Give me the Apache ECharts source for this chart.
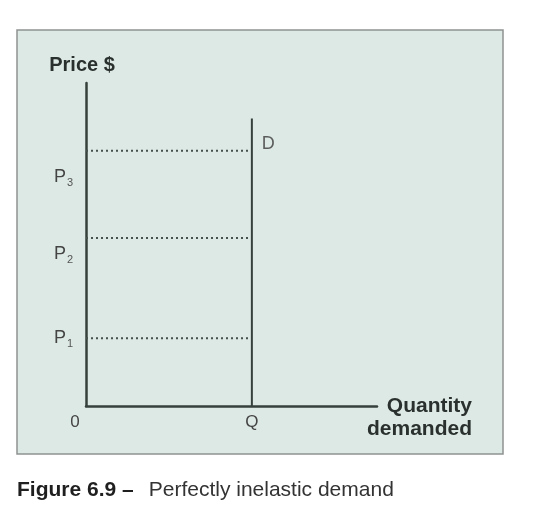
<!DOCTYPE html>
<html>
<head>
<meta charset="utf-8">
<script src="https://cdn.jsdelivr.net/npm/echarts@6/dist/echarts.min.js"></script>
<style>
  html, body { margin: 0; padding: 0; background: #fff; }
  #chart { width: 549px; height: 524px; }
</style>
</head>
<body>
<div id="chart"></div>
<script>
// quantity at which demand is fixed
const quantityQ = 57;
// top end of the demand curve
const demandTop = 89;
// price levels (dotted lines) and where their labels sit
const priceLevels = [21, 52, 79];
const priceNames = ['P{s|1}', 'P{s|2}', 'P{s|3}'];
const priceTickPos = [21, 47, 71];
// x axis tick labels
const xTickVals = [0, quantityQ];
const xTickNames = ['0', 'Q'];
const demandLabelAt = 81;

const ink = '#36403c';
const font = '"Liberation Sans", Arial, sans-serif';

const myChart = echarts.init(document.getElementById('chart'));

const priceSeries = priceLevels.map(function (p) {
  return {
    type: 'line',
    data: [[0, p], [quantityQ, p]],
    symbol: 'none',
    silent: true,
    lineStyle: { color: '#46504c', width: 2, type: [2, 3] },
    z: 1
  };
});

const option = {
  animation: false,
  backgroundColor: '#fff',
  graphic: [
    {
      type: 'rect',
      z: -10,
      shape: { x: 17, y: 30, width: 486, height: 424 },
      style: { fill: '#dde9e4', stroke: '#8f9391', lineWidth: 1.5 }
    },
    {
      type: 'text',
      left: 17,
      top: 480,
      style: {
        text: '{b|Figure 6.9 –}{r|Perfectly inelastic demand}',
        rich: {
          b: { fontFamily: font, fontSize: 21, fontWeight: 'bold', fill: '#1f1f1f' },
          r: { fontFamily: font, fontSize: 21, fill: '#333', padding: [0, 0, 0, 15] }
        }
      }
    }
  ],
  grid: { left: 86, top: 83, right: 172, bottom: 118 },
  xAxis: {
    type: 'value',
    min: 0,
    max: 100,
    splitLine: { show: false },
    axisTick: { show: false },
    axisLine: { lineStyle: { color: ink, width: 2.5 } },
    axisLabel: {
      customValues: xTickVals,
      margin: 8,
      color: '#444',
      fontFamily: font,
      fontSize: 17,
      formatter: function (v) {
        const i = xTickVals.indexOf(v);
        return i === 0 ? '{o|' + xTickNames[i] + '}' : xTickNames[i];
      },
      rich: { o: { fontFamily: font, fontSize: 17, color: '#444', padding: [0, 22, 0, 0] } }
    },
    name: '\nQuantity\ndemanded',
    nameLocation: 'end',
    nameGap: 95,
    nameTextStyle: {
      fontFamily: font, fontSize: 21, fontWeight: 'bold', color: '#2a302d',
      align: 'right', verticalAlign: 'middle', lineHeight: 23
    }
  },
  yAxis: {
    type: 'value',
    min: 0,
    max: 100,
    splitLine: { show: false },
    axisTick: { show: false },
    axisLine: { lineStyle: { color: ink, width: 2.5 } },
    axisLabel: {
      customValues: priceTickPos,
      margin: 13,
      color: '#444',
      fontFamily: font,
      fontSize: 18,
      formatter: function (v) { return priceNames[priceTickPos.indexOf(v)]; },
      rich: { s: { fontFamily: font, fontSize: 11, color: '#555', padding: [12, 0, 0, 1] } }
    },
    name: 'Price $',
    nameLocation: 'end',
    nameGap: 8,
    nameTextStyle: {
      fontFamily: font, fontSize: 20, fontWeight: 'bold', color: '#2a302d',
      padding: [0, 8, 0, 0]
    }
  },
  series: priceSeries.concat([
    {
      type: 'line',
      data: [[quantityQ, 0], [quantityQ, demandTop]],
      symbol: 'none',
      silent: true,
      lineStyle: { color: ink, width: 2 },
      z: 3
    },
    {
      type: 'scatter',
      data: [[quantityQ, demandLabelAt]],
      symbolSize: 0,
      silent: true,
      label: {
        show: true,
        position: 'right',
        distance: 10,
        formatter: 'D',
        fontFamily: font,
        fontSize: 18,
        color: '#3a3a3a'
      }
    }
  ])
};

myChart.setOption(option);
window.addEventListener('resize', function () {
  myChart.resize();
});
</script>
</body>
</html>
